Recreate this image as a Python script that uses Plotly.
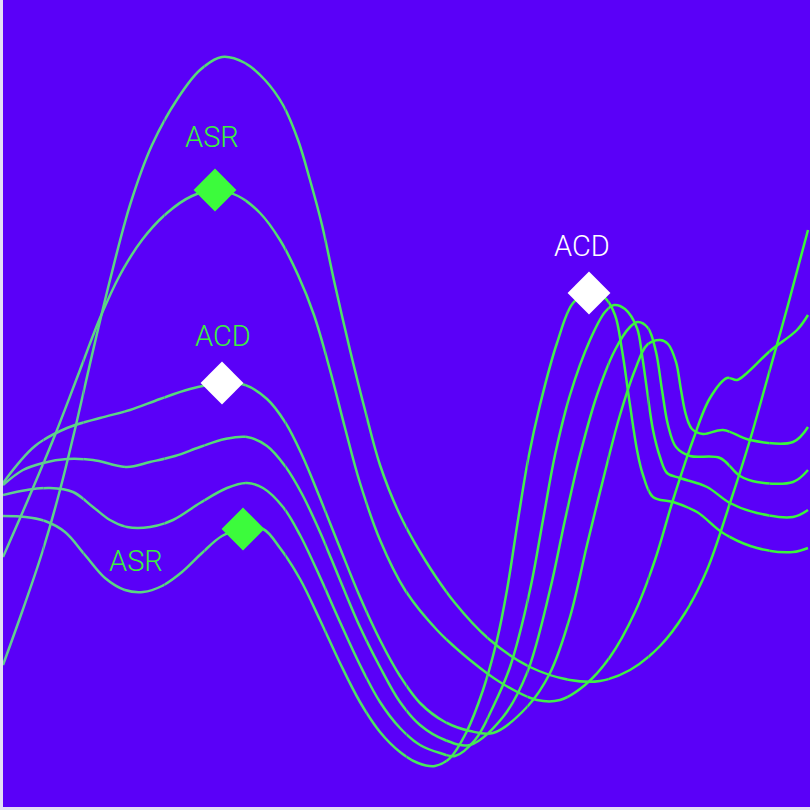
import plotly.graph_objects as go

peak_x = [3, 22, 42, 60, 76, 92, 110, 130, 152, 178, 200, 222, 245, 265, 283, 298, 310, 322, 335,
          350, 365, 380, 400, 425, 455, 490, 530, 570, 600, 630, 660, 685, 707, 730, 750, 767,
          788, 808]
peak_y = [665, 612, 553, 490, 425, 355, 280, 205, 145, 98, 70, 57, 63, 80, 105, 140, 180, 225, 285,
          350, 410, 465, 515, 560, 603, 640, 667, 680, 681, 670, 646, 613, 570, 503, 440, 380,
          305, 230]

asr_x = [3, 30, 55, 80, 100, 120, 142, 167, 192, 215, 238, 260, 280, 298, 314, 330, 345, 360, 380,
         405, 437, 470, 503, 537, 560, 585, 610, 635, 655, 673, 693, 710, 727, 737, 747, 770,
         797, 808]
asr_y = [557, 495, 435, 370, 318, 275, 240, 213, 196, 190, 196, 213, 240, 275, 315, 370, 428, 483, 540,
         590, 630, 660, 684, 700, 700, 685, 657, 612, 560, 500, 440, 398, 378, 380, 373, 351,
         330, 315]

wave1_x = [3, 35, 67, 100, 130, 160, 190, 222, 245, 267, 285, 302, 320, 340, 360, 380, 400, 420,
           445, 470, 493, 527, 550, 570, 587, 603, 620, 635, 647, 660, 668, 676, 681, 686, 692,
           703, 723, 750, 793, 808]
wave1_y = [483, 446, 428, 418, 410, 399, 389, 383, 385, 399, 422, 455, 498, 548, 597, 640, 676, 703,
           722, 731, 733, 707, 673, 617, 545, 480, 415, 370, 345, 340, 344, 362, 390, 415, 429,
           434, 430, 440, 442, 427]

wave2_x = [3, 23, 43, 67, 93, 127, 150, 175, 200, 225, 247, 267, 285, 302, 320, 340, 360, 380, 400,
           420, 445, 470, 503, 527, 550, 565, 580, 597, 615, 630, 638, 648, 656, 662, 668, 676,
           690, 720, 740, 757, 793, 808]
wave2_y = [485, 470, 463, 459, 460, 467, 462, 456, 447, 439, 437, 446, 466, 494, 532, 580, 627, 667, 702,
           725, 740, 745, 717, 673, 590, 520, 455, 395, 350, 327, 322, 328, 352, 390, 425, 447,
           456, 458, 476, 482, 482, 470]

wave3_x = [3, 27, 50, 73, 93, 110, 127, 150, 173, 200, 227, 247, 263, 283, 300, 320, 340, 360, 380,
           400, 420, 440, 455, 475, 493, 510, 530, 543, 555, 570, 590, 605, 614, 625, 637, 642,
           647, 653, 660, 667, 680, 707, 730, 757, 793, 808]
wave3_y = [495, 490, 488, 492, 507, 520, 527, 527, 520, 503, 488, 483, 488, 507, 535, 577, 622, 665, 702,
           728, 745, 753, 756, 740, 707, 667, 590, 520, 455, 395, 340, 312, 305, 309, 328, 355,
           390, 430, 457, 473, 478, 487, 503, 513, 517, 510]

wave4_x = [3, 25, 45, 65, 85, 105, 125, 143, 162, 182, 202, 222, 243, 263, 280, 300, 320, 340, 360,
           380, 400, 418, 435, 450, 466, 483, 497, 507, 518, 528, 540, 557, 573, 589, 605, 615,
           622, 630, 637, 643, 653, 673, 697, 723, 757, 793, 808]
wave4_y = [516, 517, 521, 532, 555, 578, 590, 592, 586, 572, 553, 536, 529, 529, 548, 579, 620, 663, 702,
           732, 752, 763, 766, 758, 733, 690, 640, 590, 520, 460, 405, 343, 303, 293, 298, 315,
           350, 405, 450, 475, 497, 502, 512, 533, 548, 552, 548]

marker_x = [215, 222, 243, 589]
marker_y = [190, 383, 529, 293]
marker_colors = ["#3cfb3c", "#ffffff", "#3cfb3c", "#ffffff"]

label_text = ["ASR", "ACD", "ASR", "ACD"]
label_x = [212, 223, 136, 582]
label_y = [137, 336, 561, 246]
label_colors = ["#3cf03c", "#3cf03c", "#3cf03c", "#ffffff"]

curves = [(peak_x, peak_y), (asr_x, asr_y), (wave1_x, wave1_y),
          (wave2_x, wave2_y), (wave3_x, wave3_y), (wave4_x, wave4_y)]

PURPLE = "#5a00f8"
x_lo, x_hi = 3, 810
n_strips = 20
left_rgb = (98, 206, 146)
right_rgb = (58, 246, 58)

fig = go.Figure()
axes = {}

# the lines fade from a soft green on the left to a bright green on the right,
# so the same curves are drawn in thin vertical strips, each with its own colour
for i in range(n_strips):
    name = "x" if i == 0 else "x%d" % (i + 1)
    key = "xaxis" if i == 0 else "xaxis%d" % (i + 1)
    lo = x_lo + (x_hi - x_lo) * i / n_strips
    hi = x_lo + (x_hi - x_lo) * (i + 1) / n_strips
    f = min(1.0, ((lo + hi) / 2 - x_lo) / ((x_hi - x_lo) * 0.85))
    rgb = tuple(round(a + (b - a) * f) for a, b in zip(left_rgb, right_rgb))
    col = "rgb(%d,%d,%d)" % rgb
    for xs, ys in curves:
        fig.add_trace(go.Scatter(
            x=xs, y=ys, xaxis=name, yaxis="y", mode="lines",
            line=dict(color=col, width=2.5, shape="spline", smoothing=1, simplify=False),
            hoverinfo="skip", showlegend=False))
    axes[key] = dict(domain=[i / n_strips, (i + 1) / n_strips], range=[lo, hi],
                     anchor="y", visible=False, fixedrange=True)

top = "x%d" % (n_strips + 1)
axes["xaxis%d" % (n_strips + 1)] = dict(domain=[0, 1], range=[x_lo, x_hi], anchor="y",
                                         visible=False, fixedrange=True)

fig.add_trace(go.Scatter(
    x=marker_x, y=marker_y, xaxis=top, yaxis="y", mode="markers",
    marker=dict(symbol="diamond", size=33, color=marker_colors, line=dict(width=0)),
    cliponaxis=False, hoverinfo="skip", showlegend=False))

for t, x, y, c in zip(label_text, label_x, label_y, label_colors):
    fig.add_annotation(x=x, y=y, xref=top, yref="y", text=t, showarrow=False,
                       font=dict(family="Roboto", size=29, color=c, weight=300))

fig.update_layout(
    width=810, height=810,
    margin=dict(l=3, r=0, t=0, b=3),
    paper_bgcolor="#e4dff5",
    plot_bgcolor="rgba(0,0,0,0)",
    yaxis=dict(domain=[0, 1], range=[807, 0], anchor="x", visible=False, fixedrange=True),
    shapes=[dict(type="rect", xref="paper", yref="paper", x0=0, x1=1, y0=0, y1=1,
                 fillcolor=PURPLE, line=dict(width=0), layer="below")],
    **axes
)

fig.write_html("out.html", config={"displayModeBar": False},
               post_script="document.body.style.margin = '0px';")
